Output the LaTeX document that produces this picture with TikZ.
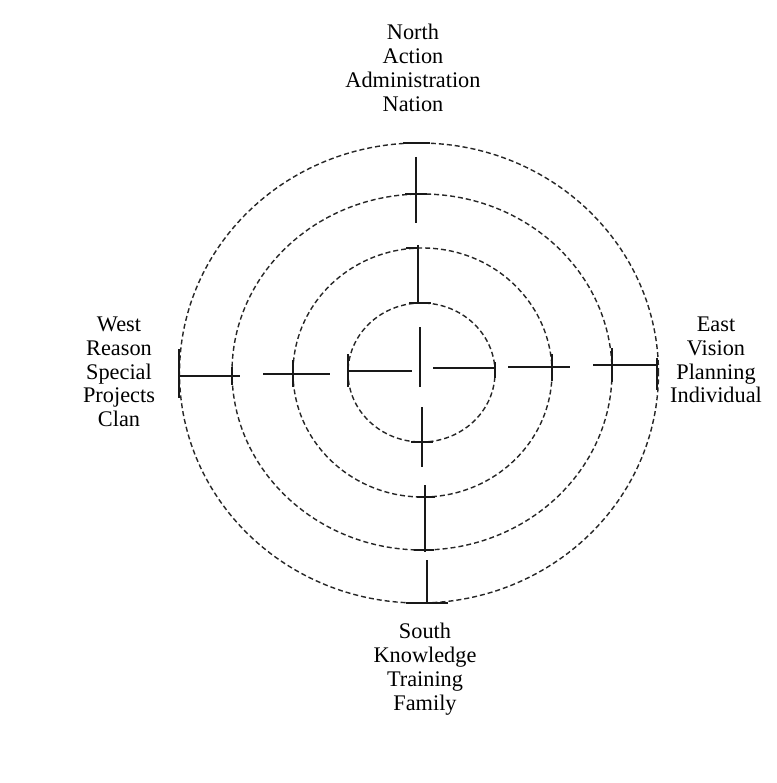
\documentclass[tikz,border=0pt]{standalone}
\usepackage{fontspec}
\setmainfont{Liberation Serif}
\begin{document}
\begin{tikzpicture}[x=1pt,y=-1pt,
  ring/.style={draw=black!85, line width=1.4pt, dash pattern=on 5pt off 3pt},
  axis/.style={draw=black!90, line width=1.6pt},
  tick/.style={draw=black!90, line width=1.5pt},
  label/.style={align=center, inner sep=0pt, font=\fontsize{22.3}{23.8}\selectfont}]
\fill[white] (0,0) rectangle (776,783);
\useasboundingbox (0,0) rectangle (776,783);

% rings
\draw[ring] (419,373) ellipse [x radius=239.5pt, y radius=230pt];
\draw[ring] (422,372) ellipse [x radius=190pt, y radius=178pt];
\draw[ring] (422.5,372.5) ellipse [x radius=129.5pt, y radius=124.5pt];
\draw[ring] (421.5,372.5) ellipse [x radius=73.5pt, y radius=69.5pt];

% vertical axis pieces
\coordinate (v1a) at (416,157); \coordinate (v1b) at (416,223);
\coordinate (v2a) at (418,245); \coordinate (v2b) at (418,303);
\coordinate (v3a) at (420,327); \coordinate (v3b) at (420,387);
\coordinate (v4a) at (422,407); \coordinate (v4b) at (422,467);
\coordinate (v5a) at (425,485); \coordinate (v5b) at (425,552);
\coordinate (v6a) at (427,560); \coordinate (v6b) at (427,603);
\draw[axis] (v1a) -- (v1b);
\draw[axis] (v2a) -- (v2b);
\draw[axis] (v3a) -- (v3b);
\draw[axis] (v4a) -- (v4b);
\draw[axis] (v5a) -- (v5b);
\draw[axis] (v6a) -- (v6b);

% horizontal axis pieces
\coordinate (h1a) at (179,376); \coordinate (h1b) at (240,376);
\coordinate (h2a) at (263,374); \coordinate (h2b) at (330,374);
\coordinate (h3a) at (348,371); \coordinate (h3b) at (412,371);
\coordinate (h4a) at (433,368); \coordinate (h4b) at (495,368);
\coordinate (h5a) at (508,367); \coordinate (h5b) at (570,367);
\coordinate (h6a) at (593,365); \coordinate (h6b) at (658,365);
\draw[axis] (h1a) -- (h1b);
\draw[axis] (h2a) -- (h2b);
\draw[axis] (h3a) -- (h3b);
\draw[axis] (h4a) -- (h4b);
\draw[axis] (h5a) -- (h5b);
\draw[axis] (h6a) -- (h6b);

% solid ticks where axes cross rings
\draw[tick] (403,143) -- (430,143);
\draw[tick] (405,194) -- (427,194);
\draw[tick] (406,248) -- (418,248);
\draw[tick] (409,303) -- (431,303);
\draw[tick] (411,442) -- (433,442);
\draw[tick] (417,497) -- (435,497);
\draw[tick] (414,550) -- (434,550);
\draw[tick] (406,603) -- (448,603);
\draw[tick] (179,349) -- (179,398);
\draw[tick] (232,367) -- (232,385);
\draw[tick] (293,360) -- (293,387);
\draw[tick] (348,354) -- (348,387);
\draw[tick] (495,362) -- (495,378);
\draw[tick] (552,354) -- (552,381);
\draw[tick] (612,348) -- (612,382);
\draw[tick] (657,358) -- (657,390);

% labels
\node[label] (north) at (413,68) {North\\Action\\Administration\\Nation};
\node[label] (west) at (119,372) {West\\Reason\\Special\\Projects\\Clan};
\node[label] (east) at (716,360) {East\\Vision\\Planning\\Individual};
\node[label] (south) at (425,669) {South\\Knowledge\\Training\\Family};
\end{tikzpicture}
\end{document}
